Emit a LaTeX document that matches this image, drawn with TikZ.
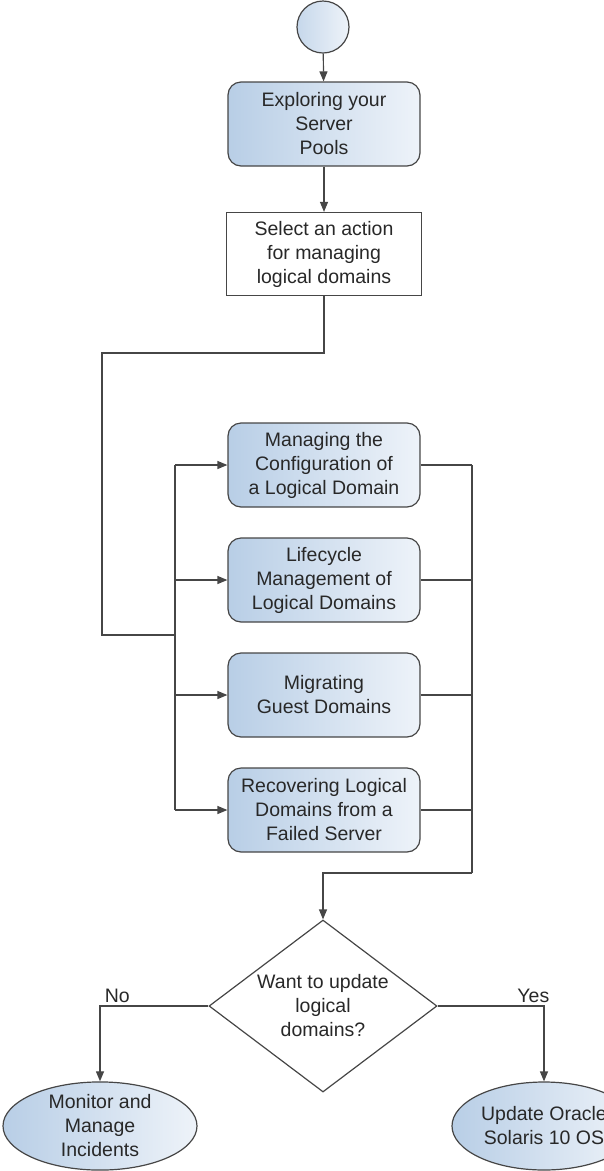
\documentclass[tikz,border=0pt]{standalone}
\usepackage{fontspec}
\setmainfont{Liberation Sans}
\usepackage{tikz}
\usetikzlibrary{arrows.meta, shapes.geometric}

\definecolor{boxblue}{RGB}{184,206,230}
\definecolor{boxlight}{RGB}{238,243,249}
\definecolor{edgegray}{RGB}{70,70,70}
\definecolor{inkgray}{RGB}{40,40,40}

\begin{document}
\begin{tikzpicture}[x=1pt, y=-1pt]
        \tikzstyle{every node} = [font=\fontsize{19.5}{24}\selectfont, text=inkgray, align=center]
        \tikzstyle{task}  = [draw=edgegray, line width=1.2pt, rounded corners=13pt, left color=boxblue, right color=boxlight, minimum width=192pt, minimum height=84pt, inner sep=0pt]
        \tikzstyle{choice} = [draw=edgegray, line width=1.2pt, fill=white, minimum width=195pt, minimum height=83pt, inner sep=0pt]
        \tikzstyle{endnode} = [draw=edgegray, line width=1.2pt, ellipse, left color=boxblue, right color=boxlight, minimum height=88pt, inner sep=0pt]
        \tikzstyle{wire} = [draw=edgegray, line width=1.2pt]
        \tikzstyle{arr} = [wire, -{Triangle[length=10pt, width=8pt]}]

        \useasboundingbox (0,0) rectangle (603,1171);

        % top part
        \node[circle, draw=edgegray, line width=1.2pt, left color=boxblue!80, right color=boxlight, minimum size=52pt, inner sep=0pt] (start) at (323,27) {};
        \node[task] (explore) at (324,124) {Exploring your\\Server\\Pools};
        \node[choice] (select) at (324,254) {Select an action\\for managing\\logical domains};

        % the four tasks
        \node[task] (managing)   at (324,465) {Managing the\\Configuration of\\a Logical Domain};
        \node[task] (lifecycle)  at (324,580) {Lifecycle\\Management of\\Logical Domains};
        \node[task] (migrating)  at (324,695) {Migrating\\Guest Domains};
        \node[task] (recovering) at (324,810) {Recovering Logical\\Domains from a\\Failed Server};

        % decision and ends
        \node[diamond, draw=edgegray, line width=1.2pt, fill=white, aspect=1.33, minimum width=228pt, minimum height=172pt, inner sep=0pt] (decide) at (323,1006) {Want to update\\logical\\domains?};
        \node[endnode, minimum width=194pt] (monitor) at (100,1126) {Monitor and\\Manage\\Incidents};
        \node[endnode, minimum width=184pt] (update) at (544,1126) {Update Oracle\\Solaris 10 OS};

        \coordinate (loopA) at (102,353);
        \coordinate (loopB) at (102,635);
        \coordinate (busin) at (175,635);
        \coordinate (busout) at (472,873);

        \draw[arr] (start) -- (explore);
        \draw[arr] (explore) -- (select);
        \draw[wire] (select.south) |- (loopA) -- (loopB) -- (busin);
        \draw[wire] (managing.west -| busin) -- (recovering.west -| busin);
        \draw[wire] (managing.east -| busout) -- (busout);
        \foreach \n in {managing, lifecycle, migrating, recovering} {
            \draw[arr] (\n.west -| busin) -- (\n.west);
            \draw[wire] (\n.east) -- (\n.east -| busout);
        }
        \draw[arr] (busout) -| (decide.north);
        \draw[arr] (decide.west) -| (monitor.north) node[pos=0.42, above, inner sep=3pt] {No};
        \draw[arr] (decide.east) -| (update.north) node[pos=0.45, above, inner sep=3pt] {Yes};
\end{tikzpicture}
\end{document}
